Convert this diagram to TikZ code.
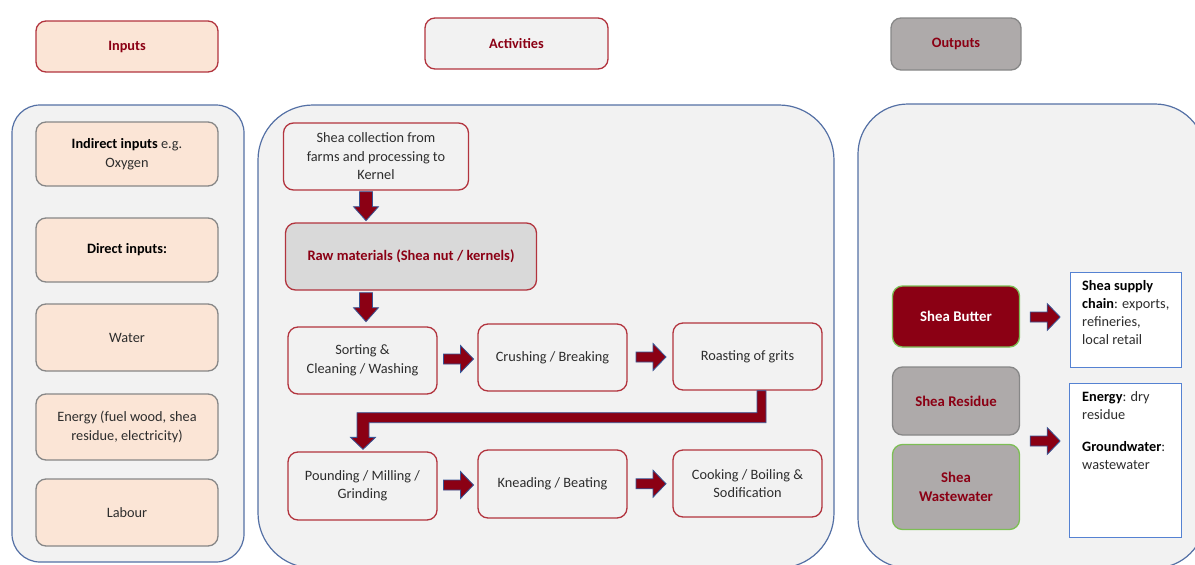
\documentclass[tikz,border=0pt]{standalone}
\usepackage{fontspec}
\setmainfont{Carlito}
\usetikzlibrary{calc}
\definecolor{dred}{RGB}{139,0,20}
\definecolor{bred}{RGB}{178,52,62}
\definecolor{peach}{RGB}{251,229,214}
\definecolor{lgray}{RGB}{242,242,242}
\definecolor{mgray}{RGB}{217,217,217}
\definecolor{ggray}{RGB}{174,170,170}
\definecolor{gborder}{RGB}{135,135,135}
\definecolor{cblue}{RGB}{84,112,165}
\definecolor{wblue}{RGB}{85,130,210}
\definecolor{gline}{RGB}{125,190,85}
\definecolor{ablue}{RGB}{55,85,150}
\definecolor{txt}{RGB}{45,45,45}
\begin{document}
\begin{tikzpicture}[x=1pt,y=-1pt,
  base/.style={rounded corners=10pt, line width=1.3pt, align=center,
    font=\fontsize{14.3}{18.5}\selectfont, text=txt, inner sep=2pt},
  hdr/.style={base, font=\fontsize{14.3}{17}\selectfont\bfseries, text=dred},
  inbox/.style={base, fill=peach, draw=gborder, minimum width=182, minimum height=65},
  actbox/.style={base, fill=lgray, draw=bred, minimum width=149, minimum height=67},
  panel/.style={fill=lgray, draw=cblue, line width=1.2pt},
  outbox/.style={base, font=\fontsize{14.8}{18.5}\selectfont\bfseries, text=dred,
    fill=ggray, minimum width=127},
  wbox/.style={fill=white, draw=wblue, line width=1.2pt, inner sep=0pt},
  wtext/.style={anchor=north west, inner sep=0pt, font=\fontsize{14.3}{18}\selectfont,
    text=txt, align=left},
  blockarr/.style={fill=dred, draw=ablue, line width=0.8pt, line join=miter},
  pics/harr/.style={code={\draw[blockarr] (0,-5) -- (17,-5) -- (17,-13.5) -- (30,0)
     -- (17,13.5) -- (17,5) -- (0,5) -- cycle;}},
  pics/varr/.style={code={\draw[blockarr] (-6.5,0) -- (-6.5,15) -- (-12.5,15) -- (0,29)
     -- (12.5,15) -- (6.5,15) -- (6.5,0) -- cycle;}}
]
\useasboundingbox (0,0) rectangle (1195,565);

% panels
\draw[panel, rounded corners=28pt] (12,105) rectangle (244,562);
\draw[panel, rounded corners=55pt] (258,105) rectangle (834,568);
\draw[panel, rounded corners=50pt] (858,104) rectangle (1205,568);

% headers
\node[hdr, fill=peach, draw=bred, minimum width=182, minimum height=51] (inH) at (127,46.5) {Inputs};
\node[hdr, fill=lgray, draw=bred, minimum width=183, minimum height=51] (actH) at (516.5,43.5) {Activities};
\node[hdr, fill=ggray, draw=gborder, minimum width=130, minimum height=52] (outH) at (956,44) {Outputs};

% inputs
\node[inbox, minimum height=64] (indirect) at (127,154) {\textcolor{black}{\bfseries Indirect inputs} e.g.\\Oxygen};
\node[inbox, minimum height=64] (direct) at (127,250) {\textcolor{black}{\bfseries Direct inputs:}};
\node[inbox, minimum height=67] (water) at (127,337.5) {Water};
\node[inbox, minimum height=66] (energy) at (127,427) {Energy (fuel wood, shea\\residue, electricity)};
\node[inbox, minimum height=67] (labour) at (127,512.5) {Labour};

% activities
\node[actbox, minimum width=185] (collect) at (376,156.5) {Shea collection from\\farms and processing to\\Kernel};
\node[actbox, fill=mgray, minimum width=251, minimum height=67, font=\fontsize{14.5}{17}\selectfont\bfseries, text=dred] (raw) at (411,256.5) {Raw materials (Shea nut / kernels)};
\node[actbox] (sort) at (362.5,360.5) {Sorting \&\\Cleaning / Washing};
\node[actbox] (crush) at (552.5,357.5) {Crushing / Breaking};
\node[actbox] (roast) at (747.5,356.5) {Roasting of grits};
\node[actbox, minimum height=68] (pound) at (362.5,486) {Pounding / Milling /\\Grinding};
\node[actbox, minimum height=68] (knead) at (552.5,484) {Kneading / Beating};
\node[actbox] (cook) at (747.5,483.5) {Cooking / Boiling \&\\Sodification};

% outputs
\node[outbox, fill=dred, draw=gline, text=white, minimum height=61] (butter) at (956,316.5) {Shea Butter};
\node[outbox, draw=gborder, minimum height=68] (residue) at (956,401) {Shea Residue};
\node[outbox, draw=gline, minimum height=85] (wastew) at (956,487) {Shea\\Wastewater};

\node[wbox, minimum width=111, minimum height=95, anchor=north west] (supply) at (1070,272) {};
\node[wtext] (supplyt) at (1082,280)
  {\textcolor{black}{\bfseries Shea supply}\\\textcolor{black}{\bfseries chain}: exports,\\refineries,\\local retail};
\node[wbox, minimum width=112, minimum height=154, anchor=north west] (eout) at (1069,383) {};
\node[wtext] (eoutt) at (1082,391)
  {\textcolor{black}{\bfseries Energy}: dry\\residue\\[14pt]\textcolor{black}{\bfseries Groundwater}:\\wastewater};

% arrows
\coordinate (ax) at (366,0);
\pic at ($(ax |- collect.south)+(0,1)$) {varr};
\pic at ($(ax |- raw.south)+(0,2)$) {varr};
\pic at ($(sort.east)!0.5!(crush.west)+(-14,0)$) {harr};
\pic at ($(crush.east)!0.5!(roast.west)+(-14,0)$) {harr};
\pic at ($(pound.east)!0.5!(knead.west)+(-14,0)$) {harr};
\pic at ($(knead.east)!0.5!(cook.west)+(-14,0)$) {harr};
\coordinate (a1) at (0,317);
\pic at ($(butter.east |- a1)+(10,0)$) {harr};
\coordinate (a2) at (0,441);
\pic at ($(residue.east |- a2)+(10,0)$) {harr};

% elbow arrow from roasting to pounding
\draw[blockarr]
  ($(roast.south)+(9.5,0)$) --
  ($(roast.south)+(18.5,0)$) --
  ($(roast.south)+(18.5,32)$) --
  ($(pound.north |- roast.south)+(6.5,32)$) --
  ($(pound.north)+(6.5,-14)$) --
  ($(pound.north)+(13,-14)$) --
  ($(pound.north)+(0.5,-2)$) --
  ($(pound.north)+(-12,-14)$) --
  ($(pound.north)+(-5.5,-14)$) --
  ($(pound.north |- roast.south)+(-5.5,22)$) --
  ($(roast.south)+(9.5,22)$) -- cycle;
\end{tikzpicture}
\end{document}
